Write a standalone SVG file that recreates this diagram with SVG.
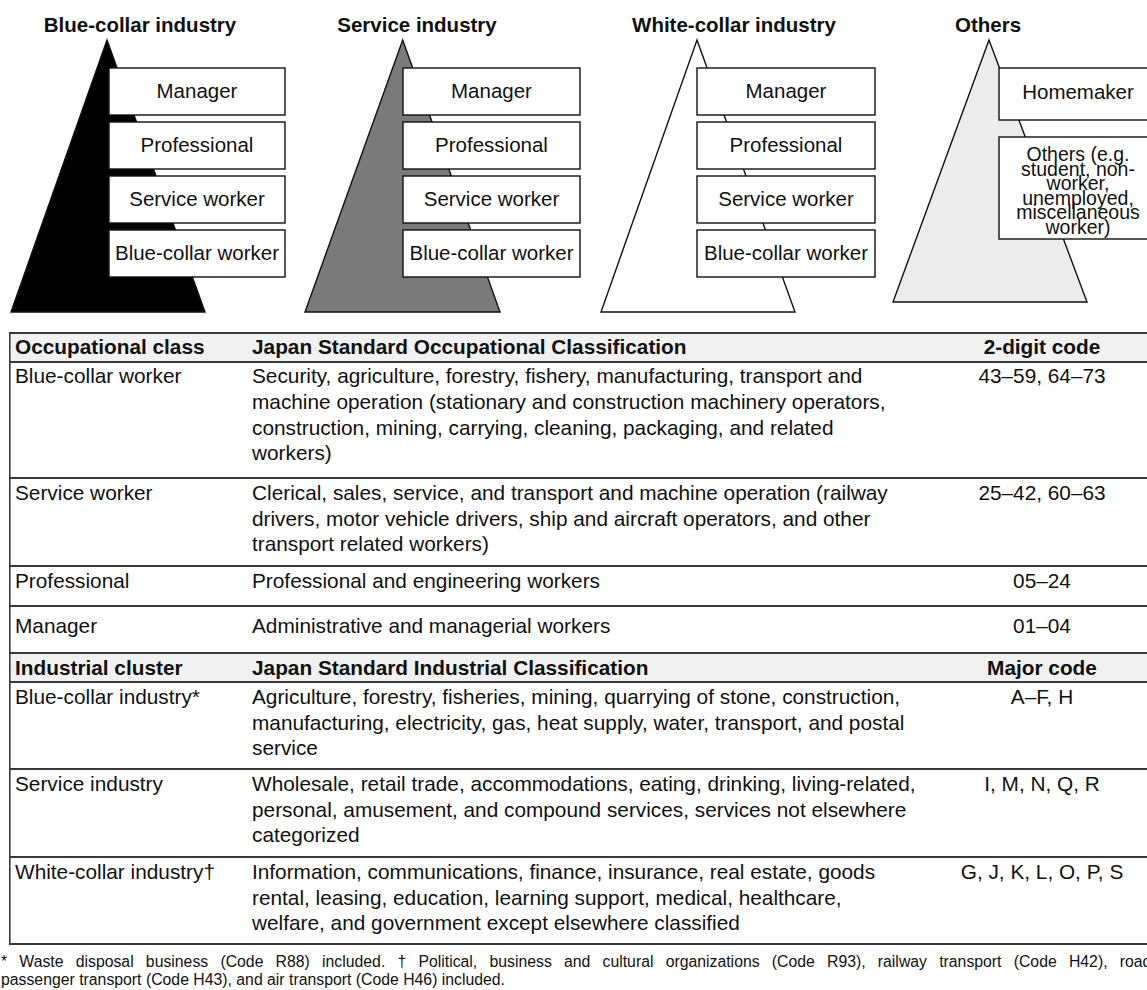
<svg xmlns="http://www.w3.org/2000/svg" width="1147" height="990" viewBox="0 0 1147 990">
<style>
text{font-family:"Liberation Sans",Arial,Helvetica,sans-serif;fill:#111;font-size:20.5px}
.t text{font-size:20.8px}
.b{font-weight:bold}
.c{text-anchor:middle}
.box{fill:#fff;stroke:#111;stroke-width:1.4}
.tri{stroke:#111;stroke-width:1.4;stroke-linejoin:miter}
.hl{stroke:#3a3a3a;stroke-width:2}
.hdr{fill:#f1f1f1}
.fn{font-size:15.8px}
.sm{font-size:19.5px}
</style>
<rect width="1147" height="990" fill="#fff"/>

<g id="pyramid-blue-collar">
<text class="b c" x="140" y="32">Blue-collar industry</text>
<polygon class="tri" points="107,40 205,312 11,312" fill="#000"/>
<rect class="box" x="109" y="68" width="176" height="47"/>
<rect class="box" x="109" y="122" width="176" height="47"/>
<rect class="box" x="109" y="176" width="176" height="47"/>
<rect class="box" x="109" y="230" width="176" height="47"/>
<text class="c" x="197" y="98">Manager</text>
<text class="c" x="197" y="152">Professional</text>
<text class="c" x="197" y="206">Service worker</text>
<text class="c" x="197" y="260">Blue-collar worker</text>
</g>

<g id="pyramid-service">
<text class="b c" x="417" y="32">Service industry</text>
<polygon class="tri" points="402.7,40 500,312 305,312" fill="#7a7a7a"/>
<rect class="box" x="403" y="68" width="177" height="47"/>
<rect class="box" x="403" y="122" width="177" height="47"/>
<rect class="box" x="403" y="176" width="177" height="47"/>
<rect class="box" x="403" y="230" width="177" height="47"/>
<text class="c" x="491.5" y="98">Manager</text>
<text class="c" x="491.5" y="152">Professional</text>
<text class="c" x="491.5" y="206">Service worker</text>
<text class="c" x="491.5" y="260">Blue-collar worker</text>
</g>

<g id="pyramid-white-collar">
<text class="b c" x="734" y="32">White-collar industry</text>
<polygon class="tri" points="697,40 795,312 601,312" fill="#fff"/>
<rect class="box" x="697" y="68" width="178" height="47"/>
<rect class="box" x="697" y="122" width="178" height="47"/>
<rect class="box" x="697" y="176" width="178" height="47"/>
<rect class="box" x="697" y="230" width="178" height="47"/>
<text class="c" x="786" y="98">Manager</text>
<text class="c" x="786" y="152">Professional</text>
<text class="c" x="786" y="206">Service worker</text>
<text class="c" x="786" y="260">Blue-collar worker</text>
</g>

<g id="pyramid-others">
<text class="b c" x="988" y="32">Others</text>
<polygon class="tri" points="989,40 1087,302 893,302" fill="#ececec"/>
<rect class="box" x="999" y="68" width="160" height="52"/>
<rect class="box" x="999" y="137" width="160" height="102"/>
<text class="c" x="1078" y="99">Homemaker</text>
<text class="c sm" x="1078" y="161">Others (e.g.</text>
<text class="c sm" x="1078" y="175.6">student, non-</text>
<text class="c sm" x="1078" y="190.2">worker,</text>
<text class="c sm" x="1078" y="204.8">unemployed,</text>
<text class="c sm" x="1078" y="219.4">miscellaneous</text>
<text class="c sm" x="1078" y="234">worker)</text>
</g>

<g id="table" class="t">
<rect class="hdr" x="10" y="333" width="1137" height="29"/>
<rect class="hdr" x="10" y="653" width="1137" height="29"/>
<line class="hl" x1="9" y1="333" x2="1147" y2="333"/>
<line class="hl" x1="9" y1="362" x2="1147" y2="362"/>
<line class="hl" x1="9" y1="478" x2="1147" y2="478"/>
<line class="hl" x1="9" y1="566" x2="1147" y2="566"/>
<line class="hl" x1="9" y1="606" x2="1147" y2="606"/>
<line class="hl" x1="9" y1="653" x2="1147" y2="653"/>
<line class="hl" x1="9" y1="682" x2="1147" y2="682"/>
<line class="hl" x1="9" y1="769" x2="1147" y2="769"/>
<line class="hl" x1="9" y1="857" x2="1147" y2="857"/>
<line class="hl" x1="9" y1="944" x2="1147" y2="944"/>
<line x1="9.8" y1="332" x2="9.8" y2="945" stroke="#3a3a3a" stroke-width="1.6"/>

<text class="b" x="15" y="354">Occupational class</text>
<text class="b" x="252" y="354">Japan Standard Occupational Classification</text>
<text class="b c" x="1042" y="354">2-digit code</text>

<text x="15" y="383">Blue-collar worker</text>
<text x="252" y="383">Security, agriculture, forestry, fishery, manufacturing, transport and</text>
<text x="252" y="409">machine operation (stationary and construction machinery operators,</text>
<text x="252" y="435">construction, mining, carrying, cleaning, packaging, and related</text>
<text x="252" y="460">workers)</text>
<text class="c" x="1042" y="383">43–59, 64–73</text>

<text x="15" y="500">Service worker</text>
<text x="252" y="500">Clerical, sales, service, and transport and machine operation (railway</text>
<text x="252" y="526">drivers, motor vehicle drivers, ship and aircraft operators, and other</text>
<text x="252" y="551">transport related workers)</text>
<text class="c" x="1042" y="500">25–42, 60–63</text>

<text x="15" y="588">Professional</text>
<text x="252" y="588">Professional and engineering workers</text>
<text class="c" x="1042" y="588">05–24</text>

<text x="15" y="633">Manager</text>
<text x="252" y="633">Administrative and managerial workers</text>
<text class="c" x="1042" y="633">01–04</text>

<text class="b" x="15" y="675">Industrial cluster</text>
<text class="b" x="252" y="675">Japan Standard Industrial Classification</text>
<text class="b c" x="1042" y="675">Major code</text>

<text x="15" y="704">Blue-collar industry*</text>
<text x="252" y="704">Agriculture, forestry, fisheries, mining, quarrying of stone, construction,</text>
<text x="252" y="730">manufacturing, electricity, gas, heat supply, water, transport, and postal</text>
<text x="252" y="755">service</text>
<text class="c" x="1042" y="704">A–F, H</text>

<text x="15" y="791">Service industry</text>
<text x="252" y="791">Wholesale, retail trade, accommodations, eating, drinking, living-related,</text>
<text x="252" y="817">personal, amusement, and compound services, services not elsewhere</text>
<text x="252" y="842">categorized</text>
<text class="c" x="1042" y="791">I, M, N, Q, R</text>

<text x="15" y="879">White-collar industry†</text>
<text x="252" y="879">Information, communications, finance, insurance, real estate, goods</text>
<text x="252" y="905">rental, leasing, education, learning support, medical, healthcare,</text>
<text x="252" y="930">welfare, and government except elsewhere classified</text>
<text class="c" x="1042" y="879">G, J, K, L, O, P, S</text>
</g>

<g id="footnote">
<text class="fn" x="1" y="967" word-spacing="7.8">* Waste disposal business (Code R88) included. † Political, business and cultural organizations (Code R93), railway transport (Code H42), road</text>
<text class="fn" x="1" y="985">passenger transport (Code H43), and air transport (Code H46) included.</text>
</g>
</svg>
